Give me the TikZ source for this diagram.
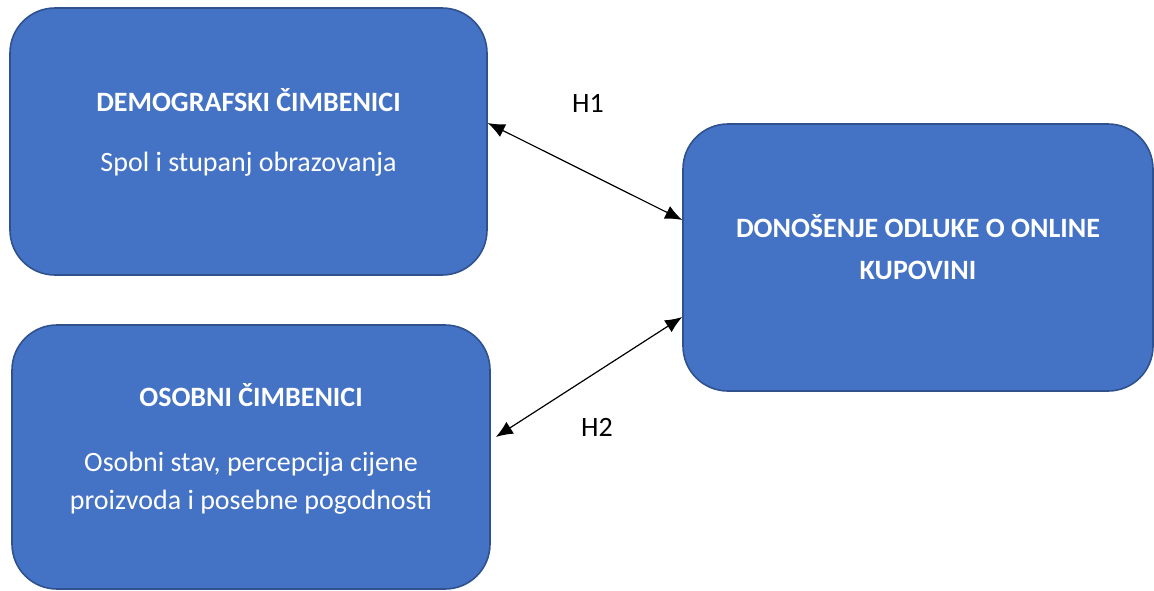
\documentclass[tikz,border=0pt]{standalone}
\usepackage{fontspec}
\setmainfont{Carlito}
\usetikzlibrary{arrows.meta,positioning,calc}
\definecolor{boxfill}{HTML}{4472C4}
\definecolor{boxdraw}{HTML}{2F528F}

\begin{document}
\begin{tikzpicture}[auto, align=center, x=1pt, y=1pt, >={Latex[length=17pt,width=14pt]}]

%local definitions
\tikzstyle{Factor} = [draw=boxdraw, line width=1.6pt, fill=boxfill, rectangle, rounded corners=45pt, minimum height=267pt]
\tikzstyle{BoxText} = [text=white, font=\fontsize{28}{38}\selectfont]
\tikzstyle{Hypo} = [font=\fontsize{28}{32}\selectfont]

\useasboundingbox (0,0) rectangle (1154,-590);

%main boxes
	\node [Factor, minimum width=477pt] (Demo) at (248.5,-141.5) {};
	\node [Factor, minimum width=478pt, minimum height=264pt] (Personal) at (251,-457) {};
	\node [Factor, minimum width=470pt] (Decision) at (918,-257.5) {};

	\node [BoxText] (DemoText) at (Demo.center) [yshift=9pt] {\textbf{DEMOGRAFSKI ČIMBENICI}\\[22pt] Spol i stupanj obrazovanja};
	\node [BoxText] (PersonalText) at (Personal.center) [yshift=8pt] {\textbf{OSOBNI ČIMBENICI}\\[27pt] Osobni stav, percepcija cijene\\ proizvoda i posebne pogodnosti};
	\node [BoxText, font=\fontsize{28}{42}\selectfont\bfseries] (DecisionText) at (Decision.center) [yshift=10pt] {DONOŠENJE ODLUKE O ONLINE\\ KUPOVINI};

%connections
	\draw [<->, line width=1.2pt] ([yshift=18.5pt]Demo.east) -- ([yshift=37.5pt]Decision.west);
	\draw [<->, line width=1.2pt] ([xshift=5pt,yshift=20pt]Personal.east) -- ([yshift=-59.5pt]Decision.west);

	%hypotheses
	\node [Hypo] (H1) at (588,-103) {H1};
	\node [Hypo] (H2) at (597,-427) {H2};

\end{tikzpicture}
\end{document}
